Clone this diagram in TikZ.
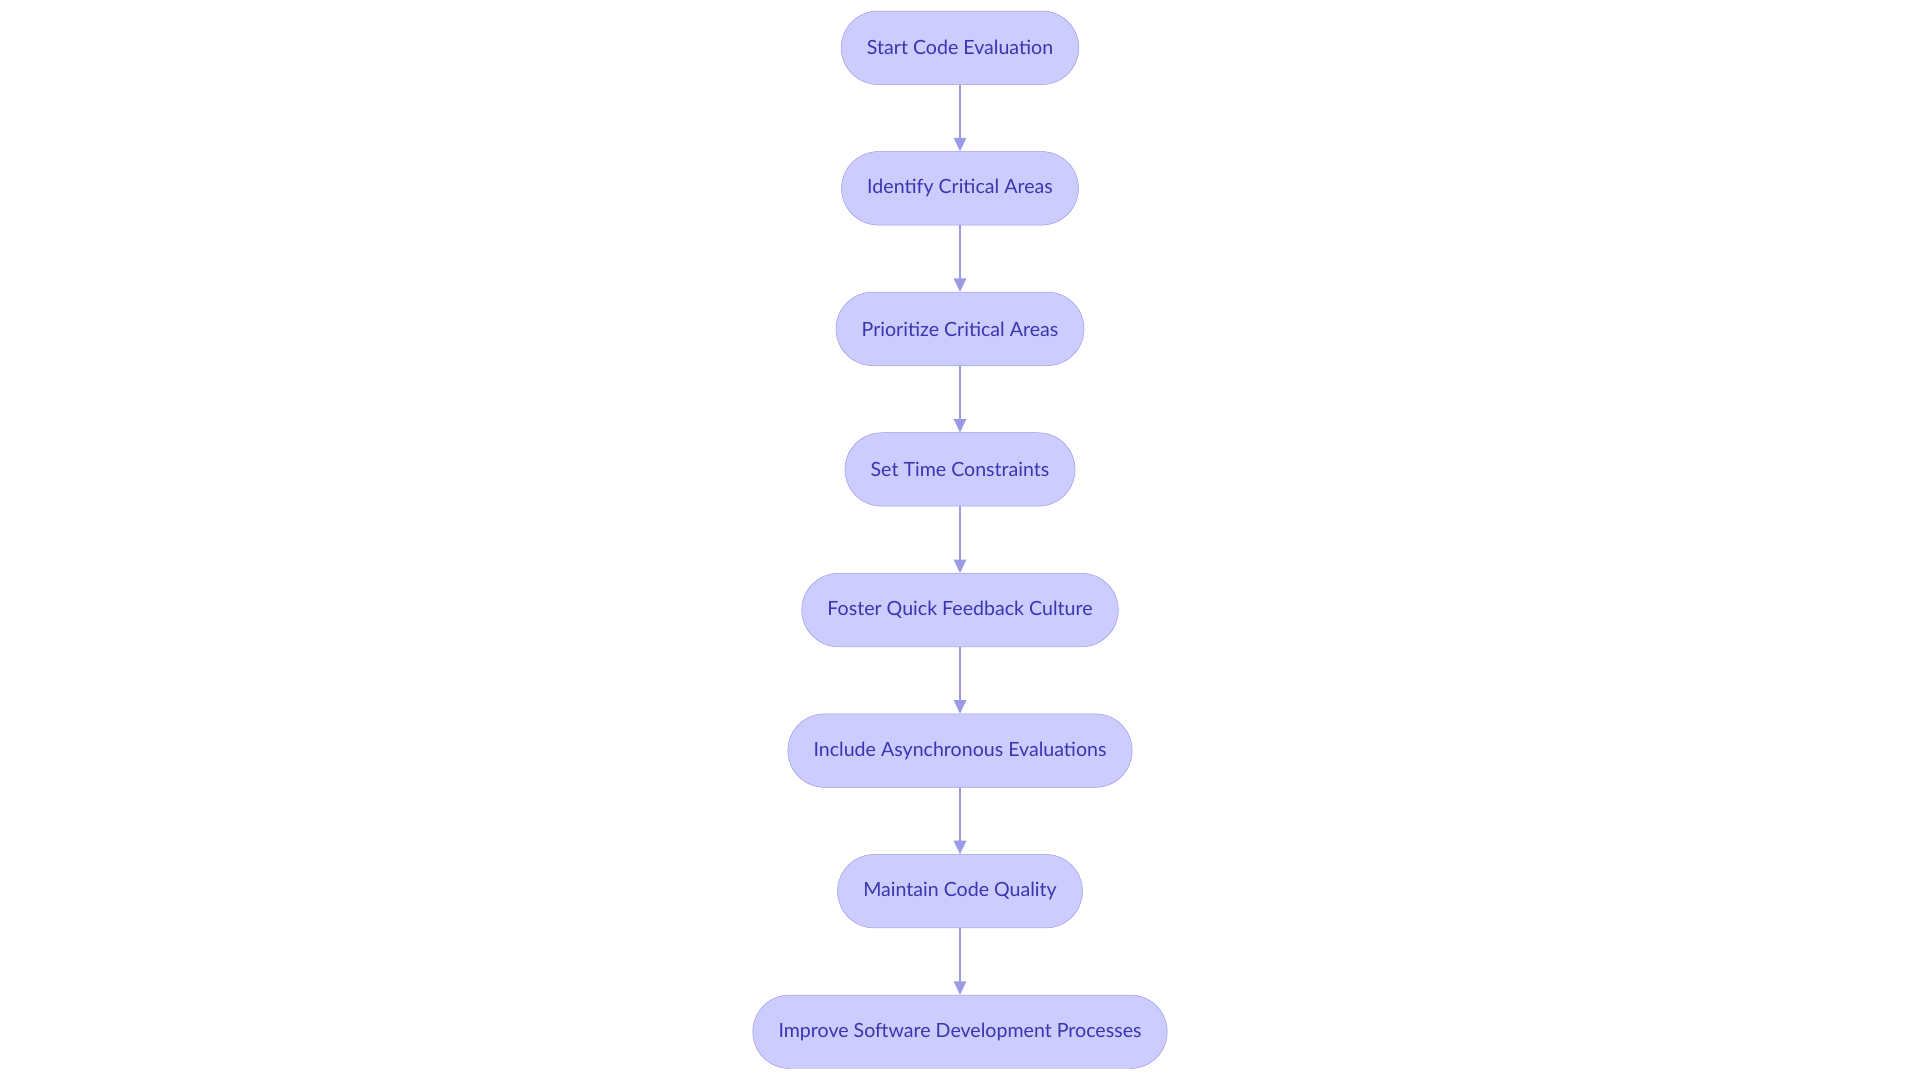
\documentclass[tikz,border=0pt]{standalone}
\usepackage{fontspec}
\setmainfont{Lato}
\usetikzlibrary{positioning,arrows.meta}
\definecolor{stepfill}{HTML}{CCCCFF}
\definecolor{stepline}{HTML}{9A9AE6}
\definecolor{steptext}{HTML}{3A35B0}
\tikzset{
  stepbox/.style={draw=stepline, fill=stepfill, rounded corners=30pt,
    minimum height=60pt, inner xsep=21pt, text=steptext,
    font=\fontsize{16pt}{19pt}\selectfont},
  flow/.style={draw=stepline, line width=1.5pt, -{Triangle[length=11pt,width=10pt]}}
}
\begin{document}
\begin{tikzpicture}[x=1pt,y=-1pt]
   \useasboundingbox (0,0) rectangle (1568,882);
   \node[stepbox] (start) at (784,39) {Start Code Evaluation};
   \node[stepbox, below=54.4pt of start] (identify) {Identify Critical Areas};
   \node[stepbox, below=54.4pt of identify] (prioritize) {Prioritize Critical Areas};
   \node[stepbox, below=54.4pt of prioritize] (time) {Set Time Constraints};
   \node[stepbox, below=54.4pt of time] (feedback) {Foster Quick Feedback Culture};
   \node[stepbox, below=54.4pt of feedback] (async) {Include Asynchronous Evaluations};
   \node[stepbox, below=54.4pt of async] (quality) {Maintain Code Quality};
   \node[stepbox, below=54.4pt of quality] (improve) {Improve Software Development Processes};

   \foreach \a/\b in {start/identify, identify/prioritize, prioritize/time,
     time/feedback, feedback/async, async/quality, quality/improve}
     \draw[flow] (\a) -- (\b);
\end{tikzpicture}
\end{document}
